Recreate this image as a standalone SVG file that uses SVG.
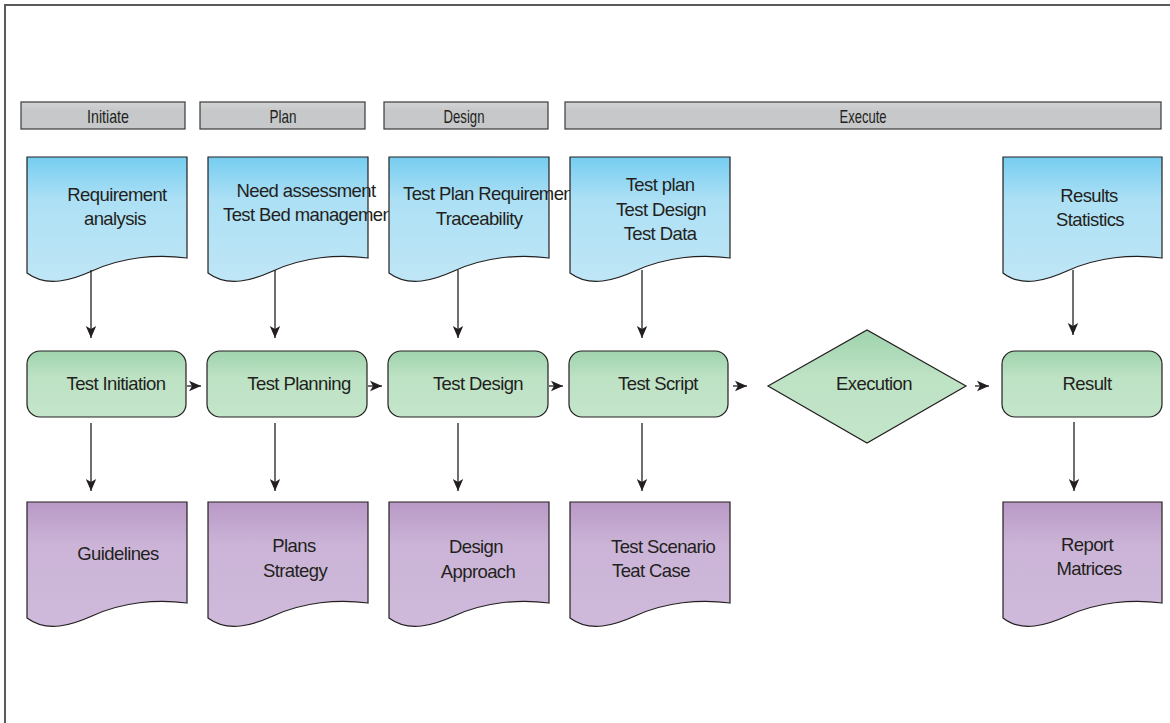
<svg xmlns="http://www.w3.org/2000/svg" width="1170" height="723" viewBox="0 0 1170 723">
<defs>
<linearGradient id="gBlue" x1="0" y1="0" x2="0" y2="1">
<stop offset="0" stop-color="#76cdf0"/><stop offset="0.35" stop-color="#ade0f5"/><stop offset="1" stop-color="#bfe6f6"/>
</linearGradient>
<linearGradient id="gGreen" x1="0" y1="0" x2="0" y2="1">
<stop offset="0" stop-color="#9fd3ad"/><stop offset="0.4" stop-color="#bde2c4"/><stop offset="1" stop-color="#c4e5ca"/>
</linearGradient>
<linearGradient id="gPurple" x1="0" y1="0" x2="0" y2="1">
<stop offset="0" stop-color="#b999c6"/><stop offset="0.35" stop-color="#cbb4d7"/><stop offset="1" stop-color="#cfbadb"/>
</linearGradient>
<linearGradient id="gGray" x1="0" y1="0" x2="0" y2="1">
<stop offset="0" stop-color="#d2d4d6"/><stop offset="0.3" stop-color="#c6c8ca"/><stop offset="1" stop-color="#c6c8ca"/>
</linearGradient>
<marker id="arr" viewBox="0 0 12 12" refX="12" refY="6" markerWidth="12" markerHeight="12" markerUnits="userSpaceOnUse" orient="auto">
<path d="M0,0.8 L12,6 L0,11.2 L3,6 Z" fill="#231f20"/>
</marker>
</defs>
<style>
.hdr{fill:url(#gGray);stroke:#3a3a3a;stroke-width:1.2}
.blue{fill:url(#gBlue);stroke:#231f20;stroke-width:1.2}
.green{fill:url(#gGreen);stroke:#231f20;stroke-width:1.2}
.purple{fill:url(#gPurple);stroke:#231f20;stroke-width:1.2}
.ht{font-family:"Liberation Sans",Arial,sans-serif;font-size:19px;fill:#231f20;text-anchor:middle}
.t{font-family:"Liberation Sans",Arial,sans-serif;font-size:18.5px;letter-spacing:-0.6px;fill:#231f20;text-anchor:middle}
.ts{font-family:"Liberation Sans",Arial,sans-serif;font-size:18.5px;letter-spacing:-0.6px;fill:#231f20;text-anchor:start}
.c{stroke:#231f20;stroke-width:1.3;fill:none;marker-end:url(#arr)}
.frame{stroke:#5a5a5a;stroke-width:2;fill:none}
</style>
<rect width="1170" height="723" fill="#ffffff"/>
<path class="frame" d="M5,723 V5 H1170"/>

<g id="headers">
<g id="hdr-initiate"><rect class="hdr" x="21" y="102" width="164" height="27"/><text class="ht" x="108" y="123" textLength="42" lengthAdjust="spacingAndGlyphs">Initiate</text></g>
<g id="hdr-plan"><rect class="hdr" x="200" y="102" width="165" height="27"/><text class="ht" x="283" y="123" textLength="27" lengthAdjust="spacingAndGlyphs">Plan</text></g>
<g id="hdr-design"><rect class="hdr" x="384" y="102" width="164" height="27"/><text class="ht" x="464" y="123" textLength="41" lengthAdjust="spacingAndGlyphs">Design</text></g>
<g id="hdr-execute"><rect class="hdr" x="565" y="102" width="596" height="27"/><text class="ht" x="863" y="123" textLength="47" lengthAdjust="spacingAndGlyphs">Execute</text></g>
</g>

<g id="doc-requirement">
<path class="blue" d="M27,157 H187 V258 C157,254 122,257 92,271 C72,280 47,288 27,273 Z"/>
<text class="t" x="117" y="201">Requirement</text>
<text class="t" x="115" y="225">analysis</text>
</g>
<g id="doc-need">
<path class="blue" d="M208,157 H368 V258 C338,254 303,257 273,271 C253,280 228,288 208,273 Z"/>
<text class="t" x="306" y="197">Need assessment</text>
<text class="ts" x="223" y="221">Test Bed management</text>
</g>
<g id="doc-testplanreq">
<path class="blue" d="M389,157 H549 V258 C519,254 484,257 454,271 C434,280 409,288 389,273 Z"/>
<text class="ts" x="403" y="200">Test Plan Requirements</text>
<text class="t" x="479" y="225">Traceability</text>
</g>
<g id="doc-testplan">
<path class="blue" d="M570,157 H730 V258 C700,254 665,257 635,271 C615,280 590,288 570,273 Z"/>
<text class="t" x="660" y="191">Test plan</text>
<text class="t" x="661" y="215.5">Test Design</text>
<text class="t" x="660" y="240">Test Data</text>
</g>
<g id="doc-results">
<path class="blue" d="M1003,157 H1162 V258 C1132,254 1097,257 1067,271 C1047,280 1022,288 1003,273 Z"/>
<text class="t" x="1089" y="201.5">Results</text>
<text class="t" x="1090" y="226">Statistics</text>
</g>

<g id="box-initiation"><rect class="green" x="27" y="351" width="159" height="66" rx="13"/><text class="t" x="116" y="390">Test Initiation</text></g>
<g id="box-planning"><rect class="green" x="207" y="351" width="160" height="66" rx="13"/><text class="t" x="299" y="390">Test Planning</text></g>
<g id="box-design"><rect class="green" x="388" y="351" width="160" height="66" rx="13"/><text class="t" x="478" y="390">Test Design</text></g>
<g id="box-script"><rect class="green" x="569" y="351" width="159" height="66" rx="13"/><text class="t" x="658" y="390">Test Script</text></g>
<g id="diamond-execution"><path class="green" d="M768,386 L867,330 L966,386 L867,443 Z"/><text class="t" x="874" y="390">Execution</text></g>
<g id="box-result"><rect class="green" x="1002" y="351" width="160" height="66" rx="13"/><text class="t" x="1087" y="390">Result</text></g>

<g id="doc-guidelines">
<path class="purple" d="M27,502 H187 V603 C157,599 122,602 92,616 C72,625 47,633 27,618 Z"/>
<text class="t" x="118" y="560">Guidelines</text>
</g>
<g id="doc-plans">
<path class="purple" d="M208,502 H368 V603 C338,599 303,602 273,616 C253,625 228,633 208,618 Z"/>
<text class="t" x="294" y="552">Plans</text>
<text class="t" x="295" y="576.5">Strategy</text>
</g>
<g id="doc-designapproach">
<path class="purple" d="M389,502 H549 V603 C519,599 484,602 454,616 C434,625 409,633 389,618 Z"/>
<text class="t" x="476" y="553">Design</text>
<text class="t" x="478" y="577.5">Approach</text>
</g>
<g id="doc-scenario">
<path class="purple" d="M570,502 H730 V603 C700,599 665,602 635,616 C615,625 590,633 570,618 Z"/>
<text class="ts" x="611" y="553">Test Scenario</text>
<text class="ts" x="612" y="577">Teat Case</text>
</g>
<g id="doc-report">
<path class="purple" d="M1003,502 H1162 V603 C1132,599 1097,602 1067,616 C1047,625 1022,633 1003,618 Z"/>
<text class="t" x="1087" y="551">Report</text>
<text class="t" x="1089" y="574.5">Matrices</text>
</g>

<g id="connectors">
<line class="c" x1="91" y1="270" x2="91" y2="338"/>
<line class="c" x1="275" y1="270" x2="275" y2="338"/>
<line class="c" x1="458" y1="270" x2="458" y2="338"/>
<line class="c" x1="642" y1="270" x2="642" y2="338"/>
<line class="c" x1="1073" y1="270" x2="1073" y2="335"/>
<line class="c" x1="187" y1="386" x2="201" y2="386"/>
<line class="c" x1="368" y1="386" x2="382" y2="386"/>
<line class="c" x1="549" y1="386" x2="563" y2="386"/>
<line class="c" x1="733" y1="386" x2="747" y2="386"/>
<line class="c" x1="975" y1="386" x2="989" y2="386"/>
<line class="c" x1="91" y1="423" x2="91" y2="491"/>
<line class="c" x1="275" y1="423" x2="275" y2="491"/>
<line class="c" x1="458" y1="423" x2="458" y2="491"/>
<line class="c" x1="642" y1="423" x2="642" y2="491"/>
<line class="c" x1="1074" y1="422" x2="1074" y2="491"/>
</g>
</svg>
